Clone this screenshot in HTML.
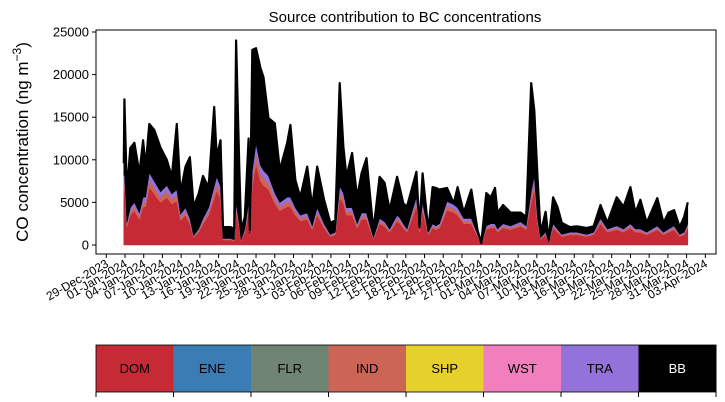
<!DOCTYPE html>
<html><head><meta charset="utf-8"><style>
body{margin:0;background:#fff;}
svg{display:block;font-family:"Liberation Sans",sans-serif;}
</style></head><body>
<svg id="c" width="725" height="402" viewBox="0 0 725 402" xmlns="http://www.w3.org/2000/svg">
<text x="405" y="22" text-anchor="middle" font-size="15">Source contribution to BC concentrations</text>
<text transform="translate(28,142) rotate(-90)" text-anchor="middle" font-size="17">CO concentration (ng m<tspan baseline-shift="super" font-size="12">−3</tspan>)</text>
<g id="plot"></g>
<rect x="96" y="30" width="620" height="224" fill="none" stroke="#000" stroke-width="1"/>
<g id="yax"></g>
<g id="xax"></g>
<g id="leg"></g>
</svg>
<script>
const days=[-0.2,-0.1,0.3,0.85,1.5,2.3,2.9,3.3,3.9,4.7,5.7,6.7,7.5,8.3,8.9,9.7,10.4,11,11.8,12.5,13.4,14.3,14.7,15.3,15.7,16.9,17.5,17.8,18.3,18.6,19.2,19.8,20.0,20.4,21,21.7,22.2,23,24,24.8,26,26.5,27.3,28.1,29.2,30,30.8,31.9,32.9,33.7,34.4,35,35.5,36.4,37.2,37.9,38.7,39.8,40.8,41.6,42.4,43.6,44.1,44.6,45.2,46.7,47.2,47.7,48.6,49.3,49.8,50.4,51.6,52.7,53.3,54.3,55.5,56.5,57.1,57.9,58.6,59.3,59.7,60.6,61.8,63.4,64.3,65.1,65.6,66.1,66.6,67.4,67.9,68.6,69.3,70,71.3,72.4,74,75.1,76.2,77.3,78.8,79.9,81,81.8,82.6,83.6,85.3,86.3,87.1,88,88.9,89.6,90.2];
const total=[9600,17100,6100,11400,12000,8400,12300,9200,14200,13500,11400,10000,8000,14200,6100,9200,10300,4500,6000,8100,6800,16200,10300,12300,2100,2100,1900,24000,9600,1700,3300,12500,1800,22900,23100,20800,19700,14900,14300,8800,12000,14100,7600,5600,9200,4500,9200,5300,2600,2900,19000,11500,8000,10800,5600,8400,10200,1700,8000,7300,4100,8000,6500,4900,4500,8600,2100,8400,1700,6800,6700,6500,6700,4900,6800,3800,6500,1700,250,6100,5600,6700,3800,4700,3800,3800,3300,19000,15800,8000,1400,3900,600,5600,4500,2600,2100,2200,2000,2200,4700,2600,5600,4500,6800,3800,5300,2600,5500,2600,3800,4100,2100,3300,5000];
const dom=[6500,7000,2100,3500,4000,3000,4500,4500,6800,6000,5000,5600,4800,5200,2900,3500,2500,900,1500,2500,3500,5500,6400,5500,600,600,500,4000,2000,500,1500,4000,1000,7000,9500,7500,7000,6500,4900,4000,4500,4500,3500,2800,3000,1800,3500,2000,1000,1200,5500,4900,3500,3500,2000,3000,3000,700,2500,2200,1500,2800,2500,2000,1500,4500,1500,4000,1200,2000,1800,2000,4100,3800,3500,2500,2500,1000,100,1800,2000,2000,1500,2000,1800,2200,1800,5000,6500,2500,700,1200,300,2000,1500,1000,1200,1200,1000,1200,2500,1500,1800,1500,2000,1500,1500,1200,1800,1200,1500,1800,1000,1200,2000];
const ind=[800,900,260,440,500,380,560,560,850,750,620,700,600,650,360,440,310,110,190,310,440,690,800,690,80,80,60,500,250,60,190,500,120,870,1200,940,870,810,610,500,560,560,440,350,380,220,440,250,120,150,690,610,440,440,250,380,380,90,310,270,190,350,310,250,190,560,190,500,150,250,220,250,510,470,440,310,310,120,10,220,250,250,190,250,220,270,220,620,810,310,90,150,40,250,190,120,150,150,120,150,310,190,220,190,250,190,190,150,220,150,190,220,120,150,250];
const tra=[800,900,260,440,500,380,560,560,850,750,620,700,600,650,360,440,310,110,190,310,440,690,800,690,80,80,60,500,250,60,190,500,120,870,1200,940,870,810,610,500,560,560,440,350,380,220,440,250,120,150,690,610,440,440,250,380,380,90,310,270,190,350,310,250,190,560,190,500,150,250,220,250,510,470,440,310,310,120,10,220,250,250,190,250,220,270,220,620,810,310,90,150,40,250,190,120,150,150,120,150,310,190,220,190,250,190,190,150,220,150,190,220,120,150,250];
const yTicks=[0,5000,10000,15000,20000,25000];
const xTickLabels=["29-Dec-2023","01-Jan-2024","04-Jan-2024","07-Jan-2024","10-Jan-2024","13-Jan-2024","16-Jan-2024","19-Jan-2024","22-Jan-2024","25-Jan-2024","28-Jan-2024","31-Jan-2024","03-Feb-2024","06-Feb-2024","09-Feb-2024","12-Feb-2024","15-Feb-2024","18-Feb-2024","21-Feb-2024","24-Feb-2024","27-Feb-2024","01-Mar-2024","04-Mar-2024","07-Mar-2024","10-Mar-2024","13-Mar-2024","16-Mar-2024","19-Mar-2024","22-Mar-2024","25-Mar-2024","28-Mar-2024","31-Mar-2024","03-Apr-2024"];
const xTickDays=[-3,0,3,6,9,12,15,18,21,24,27,30,33,36,39,42,45,48,51,54,57,60,63,66,69,72,75,78,81,84,87,90,93];
const legendNames=["DOM","ENE","FLR","IND","SHP","WST","TRA","BB"];
const legendColors=["#c62a35","#3a7db5","#6f8472","#cc6556","#e6d02c","#f27fbd","#9372d9","#000000"];

const NS="http://www.w3.org/2000/svg";
const X=d=>125+d*6.24;
const Y=v=>245-v*213/25000;
function mk(tag,attrs,parent){const e=document.createElementNS(NS,tag);for(const k in attrs)e.setAttribute(k,attrs[k]);parent.appendChild(e);return e;}
const n=Math.min(days.length,total.length,dom.length,ind.length,tra.length);
function area(lo,hi,color,name){
  let pts=[];
  for(let i=0;i<n;i++)pts.push(X(days[i]).toFixed(1)+","+Y(hi(i)).toFixed(1));
  for(let i=n-1;i>=0;i--)pts.push(X(days[i]).toFixed(1)+","+Y(lo(i)).toFixed(1));
  const p=mk("polygon",{points:pts.join(" "),fill:color,stroke:color,"stroke-width":0.6},document.getElementById("plot"));
  
  
}
area(i=>0,i=>dom[i],"#c62a35","area-dom");
area(i=>dom[i],i=>dom[i]+ind[i],"#cc6556","area-ind");
area(i=>dom[i]+ind[i],i=>dom[i]+ind[i]+tra[i],"#9372d9","area-tra");
area(i=>dom[i]+ind[i]+tra[i],i=>Math.max(total[i],dom[i]+ind[i]+tra[i]),"#000000","area-bb");
{let pts=[];for(let i=0;i<n;i++)pts.push(X(days[i]).toFixed(1)+","+Y(total[i]).toFixed(1));
const l=mk("polyline",{points:pts.join(" "),fill:"none",stroke:"#000","stroke-width":2.2,"stroke-linejoin":"round"},document.getElementById("plot"));

}

const yax=document.getElementById("yax");
yTicks.forEach(v=>{
  const t=mk("line",{x1:92,x2:96,y1:Y(v),y2:Y(v),stroke:"#000"},yax);
  
  
  const tx=mk("text",{x:89,y:Y(v)+4.5,"text-anchor":"end","font-size":13},yax);
  tx.textContent=v;
  
  
});
const xax=document.getElementById("xax");
xTickDays.forEach((d,i)=>{
  const x=X(d);
  const t=mk("line",{x1:x,x2:x,y1:254,y2:258,stroke:"#000"},xax);
  
  
  const tx=mk("text",{transform:`translate(${x+3},${266}) rotate(-30)`,"text-anchor":"end","font-size":12},xax);
  tx.textContent=xTickLabels[i];
  
  
});
const leg=document.getElementById("leg");
const w=620/legendNames.length;
legendNames.forEach((nm,i)=>{
  const r=mk("rect",{x:96+i*w,y:345,width:w+0.5,height:47,fill:legendColors[i]},leg);
  
  
  const tx=mk("text",{x:96+i*w+w/2,y:373,"text-anchor":"middle","font-size":13,fill:nm==="BB"?"#fff":"#000"},leg);
  tx.textContent=nm;
  
  
});
for(let i=0;i<=legendNames.length;i++){
  const t=mk("line",{x1:96+i*w,x2:96+i*w,y1:392,y2:397,stroke:"#000"},leg);
  
  
}
const fr=mk("rect",{x:96,y:345,width:620,height:47,fill:"none",stroke:"#000","stroke-width":0.8},leg);


</script>
</body></html>
